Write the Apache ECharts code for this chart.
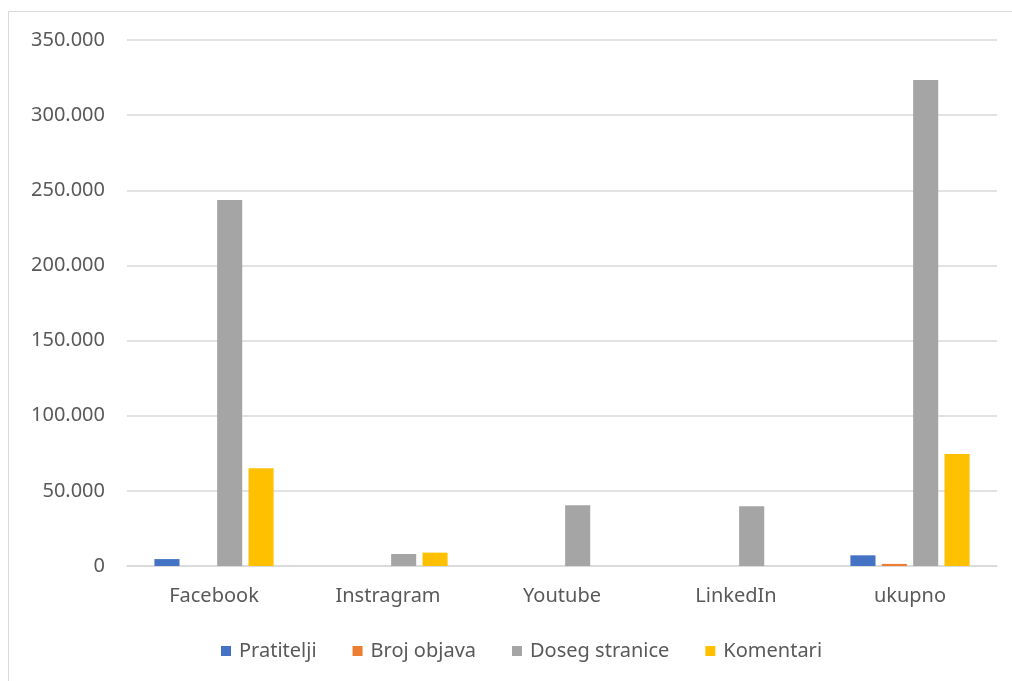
<!DOCTYPE html>
<html><head><meta charset="utf-8">
<script src="https://cdn.jsdelivr.net/npm/echarts@6/dist/echarts.min.js"></script>
<style>html,body{margin:0;padding:0;background:#fff}#c{width:1012px;height:681px}</style>
</head><body><div id="c"></div>
<script>
const categories = ['Facebook', 'Instragram', 'Youtube', 'LinkedIn', 'ukupno'];
const seriesNames = ['Pratitelji', 'Broj objava', 'Doseg stranice', 'Komentari'];
const pratitelji = [4600, 0, 0, 0, 7100];
const brojObjava = [0, 0, 0, 0, 1400];
const dosegStranice = [243600, 8000, 40400, 39700, 323400];
const komentari = [65000, 8900, 0, 0, 74600];
const yTicks = [0, 50000, 100000, 150000, 200000, 250000, 300000, 350000];
const colors = ['#4472C4', '#ED7D31', '#A5A5A5', '#FFC000'];
const values = [pratitelji, brojObjava, dosegStranice, komentari];

const font = 'Noto Sans';
const fmt = v => v === 0 ? '0' : String(v).replace(/\B(?=(\d{3})+(?!\d))/g, '.');

const chart = echarts.init(document.getElementById('c'));
chart.setOption({
  animation: false,
  graphic: [{type: 'rect', shape: {x: 8.5, y: 11.5, width: 1010, height: 680}, style: {fill: 'none', stroke: '#d9d9d9', lineWidth: 1}}],
  color: colors,
  grid: {left: 127, right: 15, top: 40, bottom: 115, containLabel: false},
  legend: {
    top: 636, left: 216, itemWidth: 10, itemHeight: 10, itemGap: 36, icon: 'rect',
    textStyle: {fontFamily: font, fontSize: 20, color: '#595959', padding: [0, 0, 0, 3]},
    data: seriesNames
  },
  xAxis: {
    type: 'category', data: categories,
    axisLine: {lineStyle: {color: '#d9d9d9', width: 1.5}}, axisTick: {show: false},
    axisLabel: {fontFamily: font, fontSize: 20, color: '#595959', margin: 20}
  },
  yAxis: {
    type: 'value', min: 0, max: yTicks[yTicks.length - 1], interval: 50000,
    axisLine: {show: false}, axisTick: {show: false},
    splitLine: {lineStyle: {color: '#d9d9d9', width: 1.5}},
    axisLabel: {fontFamily: font, fontSize: 20, color: '#595959', margin: 22, formatter: fmt}
  },
  series: seriesNames.map((n, i) => ({
    name: n, type: 'bar', data: values[i], barGap: '25%', barCategoryGap: '31.5%',
    itemStyle: {color: colors[i]}
  }))
});
</script></body></html>
